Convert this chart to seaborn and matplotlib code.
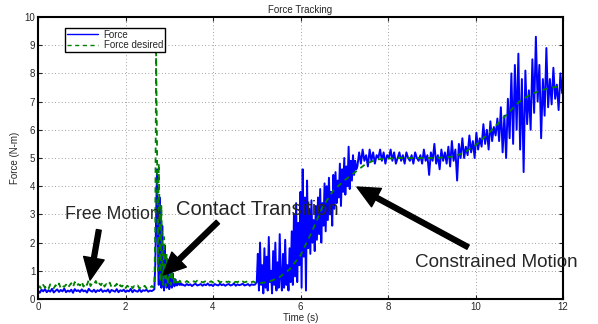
import numpy as np
import pandas as pd
import matplotlib
matplotlib.use("Agg")
import matplotlib.pyplot as plt
import seaborn as sns

# ---------------- data ----------------
# Free motion segment: t = 0.00 .. 2.64, step 0.04
free_force = [0.30,0.22,0.33,0.27,0.35,0.24,0.31,0.26,0.36,0.23,0.29,0.34,0.25,0.32,0.27,0.37,0.24,0.30,0.26,0.33,
              0.22,0.35,0.28,0.31,0.25,0.34,0.27,0.30,0.23,0.36,0.29,0.26,0.33,0.24,0.31,0.28,0.35,0.25,0.30,0.27,
              0.34,0.23,0.32,0.29,0.26,0.35,0.24,0.31,0.28,0.33,0.25,0.30,0.27,0.36,0.24,0.32,0.28,0.26,0.34,0.25,
              0.31,0.29,0.33,0.26,0.30,0.28,0.32]
free_desired = [0.38,0.45,0.35,0.50,0.40,0.47,0.36,0.52,0.42,0.38,0.49,0.41,0.55,0.37,0.46,0.43,0.51,0.39,0.48,0.56,
                0.42,0.60,0.45,0.53,0.48,0.62,0.44,0.58,0.50,0.68,0.46,0.57,0.52,0.64,0.47,0.55,0.49,0.61,0.44,0.53,
                0.47,0.58,0.42,0.50,0.46,0.54,0.40,0.49,0.44,0.52,0.39,0.47,0.42,0.50,0.38,0.46,0.41,0.48,0.37,0.45,
                0.40,0.47,0.38,0.44,0.39,0.46,0.41]

# Contact transition: t = 2.66 .. 3.30, step 0.02
trans_force = [0.35,1.2,3.0,4.6,2.0,0.5,3.6,1.0,0.4,2.6,0.7,0.3,1.9,0.6,0.4,1.4,0.5,0.35,1.1,0.45,
               0.4,0.9,0.5,0.45,0.7,0.5,0.48,0.6,0.52,0.5,0.55,0.5,0.52]
trans_desired = [0.45,2.5,8.75,5.5,1.0,4.8,3.0,0.6,3.3,1.5,0.5,2.2,1.0,0.45,1.6,0.7,0.5,1.3,0.55,0.5,
                 1.0,0.6,0.55,0.8,0.6,0.58,0.7,0.6,0.6,0.65,0.6,0.62,0.6]

# Steady contact: t = 3.32 .. 4.96, step 0.04
contact_force = [0.50,0.47,0.53,0.49,0.52,0.46,0.51,0.54,0.48,0.50,0.53,0.47,0.52,0.49,0.55,0.48,0.51,0.46,0.53,0.50,
                 0.48,0.54,0.49,0.52,0.47,0.51,0.53,0.48,0.50,0.55,0.47,0.52,0.49,0.51,0.54,0.48,0.50,0.53,0.47,0.52,
                 0.50,0.51]
contact_desired = [0.62,0.58,0.64,0.59,0.61,0.57,0.63,0.60,0.65,0.58,0.62,0.59,0.61,0.64,0.57,0.60,0.63,0.58,0.62,0.60,
                   0.65,0.59,0.61,0.57,0.63,0.60,0.62,0.58,0.64,0.59,0.61,0.60,0.63,0.57,0.62,0.59,0.61,0.64,0.58,0.60,
                   0.62,0.59]

# Constrained motion, ramp: t = 5.000 .. 7.275, step 0.025
ramp_force = [0.6,1.6,0.3,2.0,0.5,1.2,0.2,1.8,
              0.4,1.5,0.3,2.2,0.6,1.0,0.2,1.7,
              0.5,2.0,0.3,1.3,0.4,2.3,0.8,0.3,
              1.6,0.4,2.1,0.5,1.2,0.3,1.8,0.6,
              2.4,0.5,3.0,0.8,3.4,0.6,2.7,1.2,
              3.8,0.4,4.6,1.5,3.6,0.3,4.2,1.8,
              3.2,1.6,3.5,2.0,2.8,1.7,3.3,2.1,
              3.6,2.3,3.9,2.0,3.4,2.6,4.1,2.4,
              4.0,2.8,4.3,3.0,3.8,2.6,4.4,3.2,
              4.5,3.4,4.2,3.6,4.8,3.3,4.6,3.8,
              5.0,3.7,4.7,4.0,5.4,3.9,4.9,4.2,
              5.1,4.4,4.9,4.6]

# Constrained motion, hold and second ramp: t = 7.30 .. 11.98, step 0.04
hold_force = [4.7,5.2,4.8,5.3,4.9,5.1,4.7,5.3,4.9,5.2,
              4.8,5.1,5.0,5.3,4.9,5.2,4.8,5.1,5.0,5.3,
              4.9,5.2,4.8,5.0,5.2,4.9,5.1,4.8,5.2,5.0,
              4.9,5.1,4.8,5.2,5.0,4.9,5.1,4.8,5.3,4.9,
              5.1,4.4,5.2,4.9,5.5,4.8,5.1,4.6,5.3,4.9,
              5.2,4.8,5.4,4.7,5.6,4.9,5.3,4.2,5.5,5.0,
              5.7,5.0,5.4,5.1,5.8,5.2,5.6,5.0,5.9,5.3,
              5.7,5.4,6.2,5.5,6.0,5.3,6.3,5.6,6.1,5.8,
              6.4,5.6,6.8,5.2,6.5,5.0,7.1,5.7,8.0,5.5,
              8.3,6.0,8.7,5.3,7.8,4.5,8.1,6.2,7.4,6.0,
              8.5,6.6,9.3,7.0,8.3,5.7,7.8,6.5,8.9,6.8,
              7.8,6.9,8.2,7.1,7.6,6.7,8.0,7.3]

# Desired force during constrained motion: t = 5.00 .. 12.00, step 0.25
constr_desired = [0.55,0.60,0.75,1.05,1.55,2.35,3.25,3.85,4.2,4.5,4.8,4.95,4.98,5.0,5.0,5.0,5.0,5.02,5.05,
                  5.2,5.45,5.8,6.2,6.6,7.0,7.25,7.4,7.5,7.55]

x_ticks = [0, 2, 4, 6, 8, 10, 12]
y_ticks = [0, 1, 2, 3, 4, 5, 6, 7, 8, 9, 10]

# ---------------- build time axes ----------------
t_free = np.round(np.arange(len(free_force)) * 0.04, 4)
t_trans = np.round(2.66 + np.arange(len(trans_force)) * 0.02, 4)
t_contact = np.round(3.32 + np.arange(len(contact_force)) * 0.04, 4)
t_ramp = np.round(5.0 + np.arange(len(ramp_force)) * 0.025, 4)
t_hold = np.round(7.30 + np.arange(len(hold_force)) * 0.04, 4)
t_cd = np.round(5.0 + np.arange(len(constr_desired)) * 0.25, 4)

force_df = pd.DataFrame({
    "t": np.concatenate([t_free, t_trans, t_contact, t_ramp, t_hold]),
    "f": np.concatenate([free_force, trans_force, contact_force, ramp_force, hold_force]),
})
des_df = pd.DataFrame({
    "t": np.concatenate([t_free, t_trans, t_contact, t_cd]),
    "f": np.concatenate([free_desired, trans_desired, contact_desired, constr_desired]),
})

# ---------------- plot ----------------
sns.set_style("ticks")
plt.rcParams["font.family"] = ["Liberation Sans", "DejaVu Sans"]

fig = plt.figure(figsize=(5.98, 3.24), dpi=100)
ax = fig.add_axes([38/598, 1-299/324, (563-38)/598, (299-17)/324])

sns.lineplot(data=force_df, x="t", y="f", ax=ax, color="#0000ff", lw=1.4,
             estimator=None, sort=False, label="Force")
sns.lineplot(data=des_df, x="t", y="f", ax=ax, color="#008000", lw=1.3,
             estimator=None, sort=False, label="Force desired", linestyle="--")
for l in ax.get_lines():
    if l.get_label() == "Force desired":
        l.set_dashes([3, 2.5])

ax.set_xlim(0, 12)
ax.set_ylim(0, 10)
ax.set_xticks(x_ticks)
ax.set_yticks(y_ticks)
ax.tick_params(direction="in", top=True, right=True, labelsize=7, length=3, width=0.8, pad=2)
ax.grid(True, linestyle=(0, (1, 3)), color="#808080", lw=0.6)
for s in ax.spines.values():
    s.set_linewidth(1.5)
    s.set_color("black")

ax.set_title("Force Tracking", fontsize=7, pad=3)
ax.set_xlabel("Time (s)", fontsize=7, labelpad=1)
ax.set_ylabel("Force (N-m)", fontsize=7, labelpad=3)

leg = ax.legend(loc="upper left", bbox_to_anchor=(0.051, 0.962), fontsize=7,
                frameon=True, fancybox=False, borderpad=0.2, labelspacing=0.05,
                handlelength=3.2, handletextpad=0.6, borderaxespad=0)
leg.get_frame().set_edgecolor("black")
leg.get_frame().set_linewidth(1.0)
leg.get_frame().set_alpha(1)
for h in leg.get_lines():
    h.set_linewidth(1.0)

arrow = dict(facecolor="black", edgecolor="black", width=3.5, headwidth=15, headlength=16, shrink=0)
ax.annotate("", xy=(1.19, 0.67), xytext=(1.39, 2.45), arrowprops=arrow)
ax.annotate("", xy=(2.86, 0.85), xytext=(4.11, 2.73), arrowprops=arrow)
ax.annotate("", xy=(7.29, 3.97), xytext=(9.83, 1.84), arrowprops=arrow)

ax.text(0.62, 2.98, "Free Motion", fontsize=12.8, va="center", ha="left")
ax.text(3.15, 3.16, "Contact Transition", fontsize=14.5, va="center", ha="left")
ax.text(8.62, 1.28, "Constrained Motion", fontsize=13.6, va="center", ha="left", clip_on=False)

fig.savefig("out.png", dpi=100)
